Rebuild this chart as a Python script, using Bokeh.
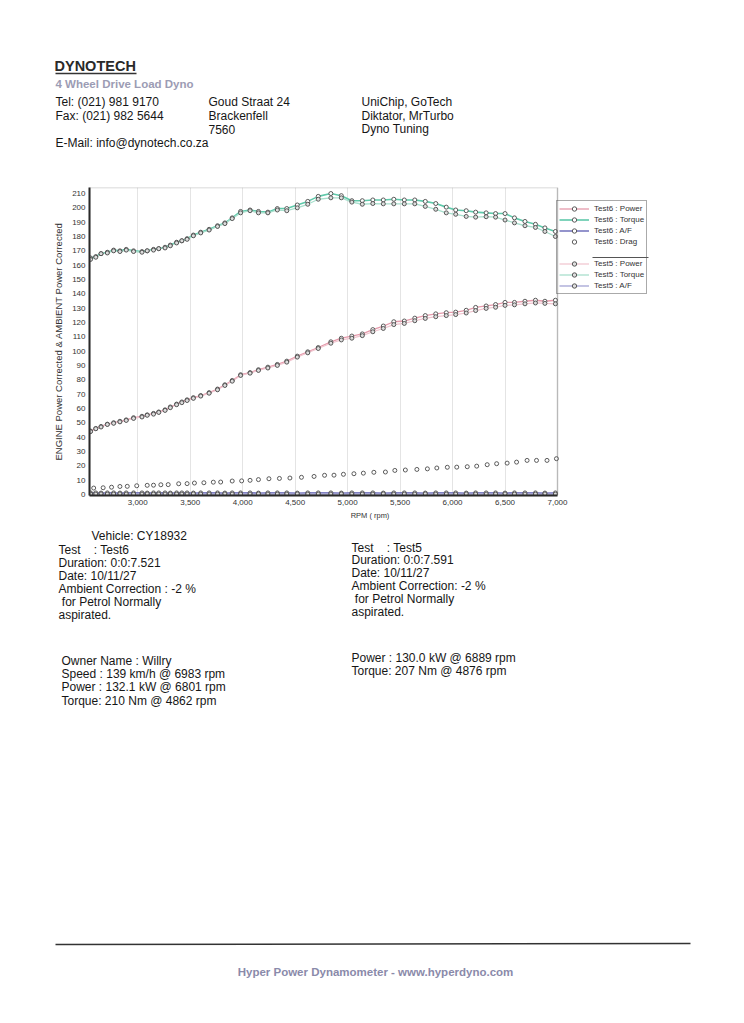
from bokeh.plotting import figure
from bokeh.models import (Range1d, Legend, LegendItem, NumeralTickFormatter,
                          FixedTicker, BoxAnnotation)
from bokeh.layouts import column, row
from bokeh.embed import file_html
from bokeh.resources import INLINE
from bokeh.core.properties import value

FONT = "Liberation Sans"
NB = "\u00a0"

# ---------------- data ----------------
rpm = [2550, 2600, 2650, 2710, 2770, 2830, 2890, 2960, 3040, 3090,
       3150, 3200, 3260, 3310, 3370, 3420, 3470, 3530, 3600, 3680,
       3760, 3830, 3900, 3980, 4070, 4150, 4240, 4330, 4420, 4520,
       4620, 4720, 4840, 4940, 5040, 5140, 5240, 5340, 5440, 5540,
       5640, 5740, 5840, 5940, 6030, 6130, 6220, 6320, 6410, 6500,
       6590, 6690, 6790, 6880, 6980]

test6_torque = [165, 166, 168, 169, 170.5, 170, 171, 170, 169.5, 170,
                171, 171.5, 172.5, 174, 176, 177, 178.5, 181, 183, 185,
                187.5, 189.5, 193, 197.5, 198.5, 197.5, 197, 199.5, 199.5, 202,
                204.5, 208, 210, 208.5, 205, 205, 205.5, 205.5, 206, 205.5,
                205.5, 204.5, 203, 200.5, 198.5, 198, 197, 196.5, 196, 196,
                193, 190.5, 188.5, 186, 183.5]

test5_torque = [164, 165.5, 168, 168.5, 170, 169.5, 170.5, 169.5, 169, 170,
                170.5, 171.5, 172, 173.5, 175.5, 177, 178, 180.5, 182.5, 184.5,
                187, 189, 192.5, 196.5, 198, 196.5, 196.5, 198.5, 198, 200,
                202.5, 206, 207, 207, 204, 202.5, 203, 202.8, 202.8, 202.8,
                202.8, 201, 199, 196.5, 195.5, 194, 193.5, 193.8, 193.5, 191.5,
                189.5, 187.5, 186.3, 183.5, 180]

test6_power = [44.2, 46, 47.4, 49, 50, 51, 52, 53.5, 54.5, 55.5,
               56.5, 57.5, 59, 61, 63, 64.5, 66, 67.5, 69, 71,
               73.5, 76.5, 79.5, 83.5, 85, 87, 88.8, 90.7, 93, 96.5,
               99.5, 102.5, 106.5, 109, 110.5, 112, 115, 117.5, 120.5, 121,
               123, 124.8, 126, 126.8, 127.2, 128.5, 130.5, 131.5, 132.5, 134,
               134, 134.8, 135.5, 134.8, 135.5]

test5_power = [43.8, 45.8, 47, 48.8, 49.6, 50.6, 51.6, 53, 54, 55.2,
               56, 57.2, 58.6, 60.5, 62.6, 64, 65.5, 67, 68.6, 70.6,
               73, 76, 79, 83, 84.6, 86.5, 88.2, 90, 92.3, 95.8,
               98.8, 101.8, 105.5, 107.8, 109, 110.8, 113.5, 115.8, 118.5, 119.3,
               121.2, 122.8, 124, 124.8, 125.5, 126.6, 128.3, 129.8, 130.6, 131.9,
               132.3, 133, 133.6, 133.3, 133]

test6_af = [1.0, 1.0, 0.9, 1.0, 1.0, 0.9, 1.0, 1.0, 1.0, 0.9,
            1.0, 1.0, 1.0, 0.9, 1.0, 1.0, 1.0, 0.9, 1.0, 1.0,
            1.0, 0.9, 1.0, 1.0, 1.0, 0.9, 1.0, 1.0, 1.0, 0.9,
            1.0, 1.0, 1.0, 0.9, 1.0, 1.0, 1.0, 0.9, 1.0, 1.0,
            1.0, 0.9, 1.0, 1.0, 1.0, 0.9, 1.0, 1.0, 1.0, 0.9,
            1.0, 1.0, 1.0, 0.9, 1.0]

test5_af = [0.2, 0.2, 0.3, 0.2, 0.2, 0.3, 0.2, 0.2, 0.2, 0.3,
            0.2, 0.2, 0.2, 0.3, 0.2, 0.2, 0.2, 0.3, 0.2, 0.2,
            0.2, 0.3, 0.2, 0.2, 0.2, 0.3, 0.2, 0.2, 0.2, 0.3,
            0.2, 0.2, 0.2, 0.3, 0.2, 0.2, 0.2, 0.3, 0.2, 0.2,
            0.2, 0.3, 0.2, 0.2, 0.2, 0.3, 0.2, 0.2, 0.2, 0.3,
            0.2, 0.2, 0.2, 0.3, 0.2]

drag_rpm = [2580, 2670, 2750, 2830, 2900, 2990, 3090, 3150, 3220, 3290,
            3390, 3470, 3540, 3630, 3720, 3790, 3900, 3990, 4070, 4150,
            4250, 4350, 4450, 4560, 4680, 4780, 4870, 4960, 5060, 5150,
            5250, 5360, 5450, 5550, 5660, 5760, 5850, 5950, 6040, 6140,
            6230, 6330, 6420, 6520, 6610, 6710, 6800, 6900, 6990]
test6_drag = [4.4, 4.6, 5, 5.5, 5.6, 6, 6.3, 6.4, 6.7, 6.8,
              7.4, 7.5, 7.9, 8.1, 8.5, 8.6, 9.3, 9.4, 9.8, 10.3,
              10.9, 11.1, 11.4, 11.9, 12.5, 13.3, 13.4, 14, 14.4, 14.8,
              15.4, 15.6, 16.7, 17, 17.4, 17.8, 18.4, 18.9, 19, 19.3,
              19.7, 20.7, 21.4, 21.8, 22.5, 23.7, 23.7, 23.7, 24.9]

x_ticks = [3000, 3500, 4000, 4500, 5000, 5500, 6000, 6500, 7000]
y_ticks = [0, 10, 20, 30, 40, 50, 60, 70, 80, 90, 100, 110, 120, 130, 140,
           150, 160, 170, 180, 190, 200, 210]
rpm_min, rpm_max = 2540, 7000
val_min, val_max = -0.8, 214.2

legend_labels = ["Test6 : Power", "Test6 : Torque", "Test6 : A/F", "Test6 : Drag",
                 "Test5 : Power", "Test5 : Torque", "Test5 : A/F"]

company = "DYNOTECH"
subtitle = "4 Wheel Drive Load Dyno"
contact_col1 = ["Tel: (021) 981 9170", "Fax: (021) 982 5644"]
contact_col2 = ["Goud Straat 24", "Brackenfell", "7560"]
contact_col3 = ["UniChip, GoTech", "Diktator, MrTurbo", "Dyno Tuning"]
email = "E-Mail: info@dynotech.co.za"

vehicle = "Vehicle: CY18932"
test6_info = ["Test" + NB * 4 + ": Test6", "Duration: 0:0:7.521", "Date: 10/11/27",
              "Ambient Correction : -2 %", NB + "for Petrol Normally", "aspirated."]
test5_info = ["Test" + NB * 4 + ": Test5", "Duration: 0:0:7.591", "Date: 10/11/27",
              "Ambient Correction: -2 %", NB + "for Petrol Normally", "aspirated."]
test6_results = ["Owner Name : Willry", "Speed : 139 km/h @ 6983 rpm",
                 "Power : 132.1 kW @ 6801 rpm", "Torque: 210 Nm @ 4862 rpm"]
test5_results = ["Power : 130.0 kW @ 6889 rpm", "Torque: 207 Nm @ 4876 rpm"]
footer = "Hyper Power Dynamometer - www.hyperdyno.com"

# ---------------- helpers ----------------
W = 744
TXT = "#161616"


def text_fig(top, bottom):
    f = figure(width=W, height=bottom - top, x_range=Range1d(0, W),
               y_range=Range1d(bottom, top), output_backend="svg",
               toolbar_location=None, min_border=0,
               min_border_left=0, min_border_right=0,
               min_border_top=0, min_border_bottom=0,
               x_axis_location=None, y_axis_location=None)
    f.grid.visible = False
    f.outline_line_color = None
    f.background_fill_color = "white"
    f.border_fill_color = "white"
    return f


def put(f, x, y0, lines, step, size="12px", color=TXT, style="normal"):
    f.text(x=[x] * len(lines), y=[y0 + i * step for i in range(len(lines))],
           text=lines, text_font=value(FONT), text_font_size=size,
           text_color=color, text_baseline="middle", text_align="left",
           text_font_style=style)


# ---------------- header ----------------
head = text_fig(0, 180)
put(head, 54, 65, [company], 0, size="14.5px", color="#2a2a2a", style="bold")
head.segment(x0=[55], y0=[73], x1=[136], y1=[73], line_color="#333", line_width=1.3)
put(head, 55, 83, [subtitle], 0, size="11.5px", color="#9c9cb4", style="bold")
put(head, 55, 101.5, contact_col1, 13.5)
put(head, 208, 101.5, contact_col2, 13.5)
put(head, 361, 101.5, contact_col3, 13.5)
put(head, 55, 142, [email], 0)

# ---------------- chart ----------------
# plot area 89..557 px holds rpm_min..rpm_max; the frame continues to 650 px
# so that the legend (which sits right of the plot area) is inside the canvas.
FRAME_L, PLOT_R, FRAME_R = 89, 557, 650
FRAME_T, FRAME_H = 7, 308
px_per_rpm = (PLOT_R - FRAME_L) / (rpm_max - rpm_min)
px_per_val = FRAME_H / (val_max - val_min)
x_end = rpm_min + (FRAME_R - FRAME_L) / px_per_rpm

p = figure(width=W, height=345, x_range=Range1d(rpm_min, x_end),
           y_range=Range1d(val_min, val_max), output_backend="svg",
           toolbar_location=None, min_border_left=FRAME_L,
           min_border_right=W - FRAME_R, min_border_top=FRAME_T,
           min_border_bottom=345 - FRAME_T - FRAME_H)
p.background_fill_color = "white"
p.border_fill_color = "white"
p.outline_line_color = None

p.xaxis.ticker = FixedTicker(ticks=x_ticks)
p.yaxis.ticker = FixedTicker(ticks=y_ticks)
p.xaxis.formatter = NumeralTickFormatter(format="0,0")
p.xaxis.bounds = (rpm_min, rpm_max)
p.xaxis.axis_label = "RPM ( rpm)"
p.yaxis.axis_label = "ENGINE Power Corrected & AMBIENT Power Corrected"
for ax in (p.xaxis, p.yaxis):
    ax.axis_line_color = "#222"
    ax.axis_line_width = 2
    ax.major_tick_out = 0
    ax.major_tick_in = 0
    ax.minor_tick_out = 0
    ax.minor_tick_in = 0
    ax.major_label_text_font = FONT
    ax.major_label_text_font_size = "8px"
    ax.major_label_text_color = "#333"
    ax.axis_label_text_font = FONT
    ax.axis_label_text_font_style = "normal"
    ax.axis_label_text_color = "#333"
p.xaxis.axis_label_text_font_size = "7.5px"
p.yaxis.axis_label_text_font_size = "9.5px"
p.xaxis.major_label_standoff = 4
p.xaxis.axis_label_standoff = 3
p.yaxis.major_label_standoff = 4
p.yaxis.axis_label_standoff = 5
p.xgrid.grid_line_color = "#e4e4e4"
p.ygrid.grid_line_color = None

# border of the plot area (top and right edges)
p.add_layout(BoxAnnotation(left=rpm_min, right=rpm_max, bottom=val_min, top=val_max,
                           fill_alpha=0, line_color="#555555", line_width=1.5))

mk = dict(size=4, line_color="#4a4a4a", line_width=0.9)

l6p = p.line(rpm, test6_power, line_color="#e59aab", line_width=1.3)
l5p = p.line(rpm, test5_power, line_color="#f0c4ce", line_width=1.2)
l6t = p.line(rpm, test6_torque, line_color="#5fc9aa", line_width=1.6)
l5t = p.line(rpm, test5_torque, line_color="#a9dfcd", line_width=1.3)
l6a = p.line(rpm, test6_af, line_color="#5a5ab0", line_width=1.3)
l5a = p.line(rpm, test5_af, line_color="#9c9cd0", line_width=1.2)

s6p = p.scatter(rpm, test6_power, fill_color="white", **mk)
s5p = p.scatter(rpm, test5_power, fill_color="#dddddd", **mk)
s6t = p.scatter(rpm, test6_torque, fill_color="white", **mk)
s5t = p.scatter(rpm, test5_torque, fill_color="#dddddd", **mk)
s6a = p.scatter(rpm, test6_af, fill_color="white", **mk)
s5a = p.scatter(rpm, test5_af, fill_color="#dddddd", **mk)
s6d = p.scatter(drag_rpm, test6_drag, fill_color="white", **mk)
blank = p.line([], [], line_alpha=0)

items = [
    LegendItem(label=legend_labels[0], renderers=[l6p, s6p]),
    LegendItem(label=legend_labels[1], renderers=[l6t, s6t]),
    LegendItem(label=legend_labels[2], renderers=[l6a, s6a]),
    LegendItem(label=legend_labels[3], renderers=[s6d]),
    LegendItem(label=" ", renderers=[blank]),
    LegendItem(label=legend_labels[4], renderers=[l5p, s5p]),
    LegendItem(label=legend_labels[5], renderers=[l5t, s5t]),
    LegendItem(label=legend_labels[6], renderers=[l5a, s5a]),
]
leg = Legend(items=items, location=(PLOT_R - FRAME_L - 1, 201), margin=0, padding=2,
             spacing=0, glyph_width=30, glyph_height=11, label_height=11,
             label_standoff=5, label_text_font=FONT, label_text_font_size="8px",
             label_text_color="#333", border_line_color="#555",
             border_line_width=1, background_fill_color="white",
             background_fill_alpha=0)
p.add_layout(leg, "center")

# thin separator drawn inside the legend's empty row (screen px -> data units)
sep_x0 = rpm_min + (592 - FRAME_L) / px_per_rpm
sep_x1 = rpm_min + (648 - FRAME_L) / px_per_rpm
sep_y = val_min + (FRAME_T + FRAME_H - (257 - 180)) / px_per_val
p.segment(x0=[sep_x0], y0=[sep_y], x1=[sep_x1], y1=[sep_y],
          line_color="#555555", line_width=1)

# ---------------- body ----------------
body = text_fig(525, 1023)
put(body, 91, 535, [vehicle], 0)
put(body, 58, 549.5, test6_info, 12.9)
put(body, 351, 547, test5_info, 12.8)
put(body, 61, 660, test6_results, 13.4)
put(body, 351, 657, test5_results, 13.8)
body.segment(x0=[55], y0=[944], x1=[690], y1=[943], line_color="#333", line_width=1.5)
body.text(x=[375], y=[971], text=[footer], text_font=value(FONT),
          text_font_size="11.5px", text_color="#8a8aaa", text_align="center",
          text_baseline="middle", text_font_style="bold")

layout = column(head, row(p), body)
open("out.html", "w").write(file_html(layout, INLINE))
